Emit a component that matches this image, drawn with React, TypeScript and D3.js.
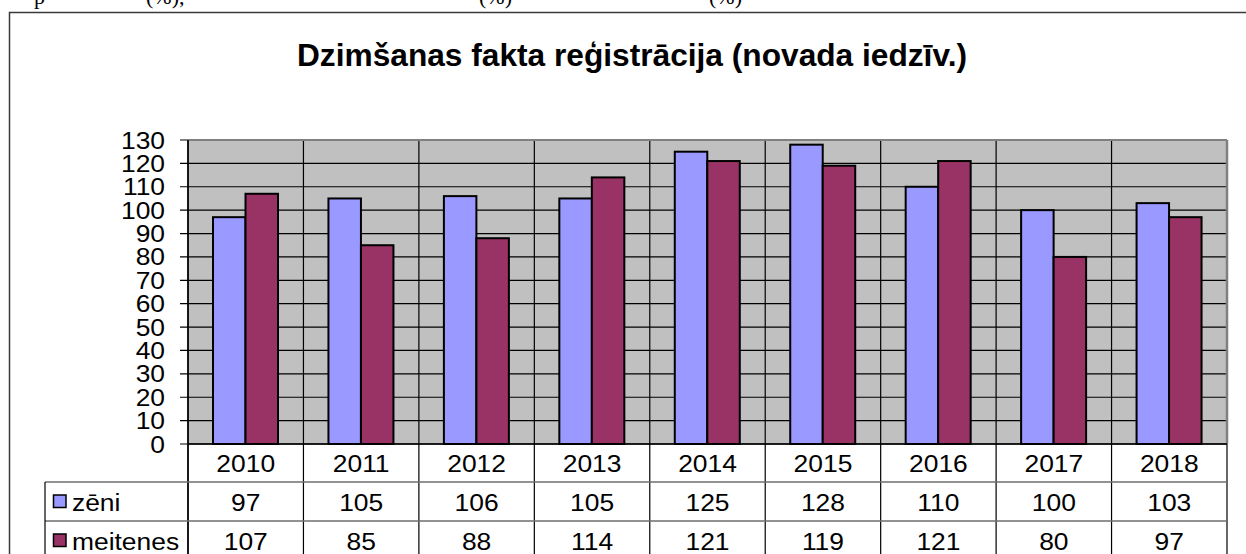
import React from "react";
import * as d3 from "d3";

const years = ["2010", "2011", "2012", "2013", "2014", "2015", "2016", "2017", "2018"];
const zeni = [97, 105, 106, 105, 125, 128, 110, 100, 103];
const meitenes = [107, 85, 88, 114, 121, 119, 121, 80, 97];
const seriesNames = ["zēni", "meitenes"];
const seriesColors = ["#9999FF", "#993366"];
const yTicks = [0, 10, 20, 30, 40, 50, 60, 70, 80, 90, 100, 110, 120, 130];
const title = "Dzimšanas fakta reģistrācija (novada iedzīv.)";

const W = 1246;
const H = 554;
const plotL = 188;
const plotR = 1227;
const plotT = 140;
const plotB = 444;
const rowB = [482, 521, 560];
const font = "Liberation Sans, Arial, sans-serif";

function T(props: { x: number; y: number; anchor?: string; children: React.ReactNode }) {
  return (
    <text
      transform={`translate(${props.x},${props.y}) scale(1.1,1)`}
      textAnchor={props.anchor || "start"}
      fontSize={24}
    >
      {props.children}
    </text>
  );
}

export default function App() {
  const x = d3.scaleBand<string>().domain(years).range([plotL, plotR]).padding(0);
  const y = d3.scaleLinear().domain([0, 130]).range([plotB, plotT]);
  const bw = x.bandwidth();
  const series = [zeni, meitenes];
  const barW = bw * 0.2815;
  const gap = bw * 0.2166;

  return (
    <svg
      width={W}
      height={H}
      style={{ position: "absolute", left: 0, top: 0, background: "#fff" }}
      fontFamily={font}
    >
      {/* cut-off text line at top */}
      <g fontFamily="Liberation Serif, Times New Roman, serif" fontSize={22} fill="#000">
        <text x={34} y={4}>p</text>
        <text x={146} y={4}>(%),</text>
        <text x={479} y={4}>(%)</text>
        <text x={709} y={4}>(%)</text>
      </g>
      {/* chart area border */}
      <rect x={9.5} y={12.5} width={1250} height={600} fill="#fff" stroke="#3a3a3a" strokeWidth={1.5} />

      <text
        x={632}
        y={66}
        textAnchor="middle"
        fontSize={31}
        fontWeight="bold"
        textLength={670}
        lengthAdjust="spacingAndGlyphs"
      >
        {title}
      </text>

      {/* plot background */}
      <rect x={plotL} y={plotT} width={plotR - plotL} height={plotB - plotT} fill="#C0C0C0" />
      {/* horizontal gridlines */}
      {yTicks.map((t) => (
        <line key={"g" + t} x1={plotL - 8} x2={plotR} y1={y(t)} y2={y(t)} stroke="#000" strokeWidth={1.2} />
      ))}
      {/* vertical category lines through plot and table */}
      {years.map((yr) => (
        <line key={"v" + yr} x1={x(yr)!} x2={x(yr)!} y1={plotT} y2={H} stroke="#000" strokeWidth={1.2} />
      ))}
      <line x1={plotR} x2={plotR} y1={plotB} y2={H} stroke="#000" strokeWidth={1.2} />
      {/* plot border */}
      <line x1={plotL} x2={plotR} y1={plotT} y2={plotT} stroke="#808080" strokeWidth={2} />
      <line x1={plotR} x2={plotR} y1={plotT} y2={plotB} stroke="#808080" strokeWidth={2.5} />
      <line x1={plotL} x2={plotL} y1={plotT} y2={H} stroke="#000" strokeWidth={1.5} />

      {/* bars */}
      {series.map((vals, s) =>
        vals.map((v, i) => (
          <rect
            key={s + "-" + i}
            x={x(years[i])! + gap + s * barW}
            y={y(v)}
            width={barW}
            height={y(0) - y(v)}
            fill={seriesColors[s]}
            stroke="#000"
            strokeWidth={2}
          />
        ))
      )}

      {/* y-axis labels */}
      {yTicks.map((t) => (
        <T key={"l" + t} x={165} y={y(t) + 8.5} anchor="end">
          {t}
        </T>
      ))}

      {/* data table */}
      <line x1={plotL} x2={plotR} y1={plotB} y2={plotB} stroke="#000" strokeWidth={1.5} />
      <line x1={45} x2={plotR} y1={rowB[0]} y2={rowB[0]} stroke="#6e6e6e" strokeWidth={1.5} />
      <line x1={45} x2={plotR} y1={rowB[1]} y2={rowB[1]} stroke="#6e6e6e" strokeWidth={1.5} />
      <line x1={45} x2={45} y1={rowB[0]} y2={H} stroke="#000" strokeWidth={1.2} />
      {years.map((yr) => (
        <T key={"y" + yr} x={x(yr)! + bw / 2} y={472} anchor="middle">
          {yr}
        </T>
      ))}
      {series.map((vals, s) => (
        <g key={"row" + s}>
          <rect x={53.5} y={rowB[s] + 13} width={12.5} height={12.5} fill={seriesColors[s]} stroke="#000" strokeWidth={1.5} />
          <T x={72} y={rowB[s] + 28.5}>
            {seriesNames[s]}
          </T>
          {vals.map((v, i) => (
            <T key={i} x={x(years[i])! + bw / 2} y={rowB[s] + 28.5} anchor="middle">
              {v}
            </T>
          ))}
        </g>
      ))}
    </svg>
  );
}
